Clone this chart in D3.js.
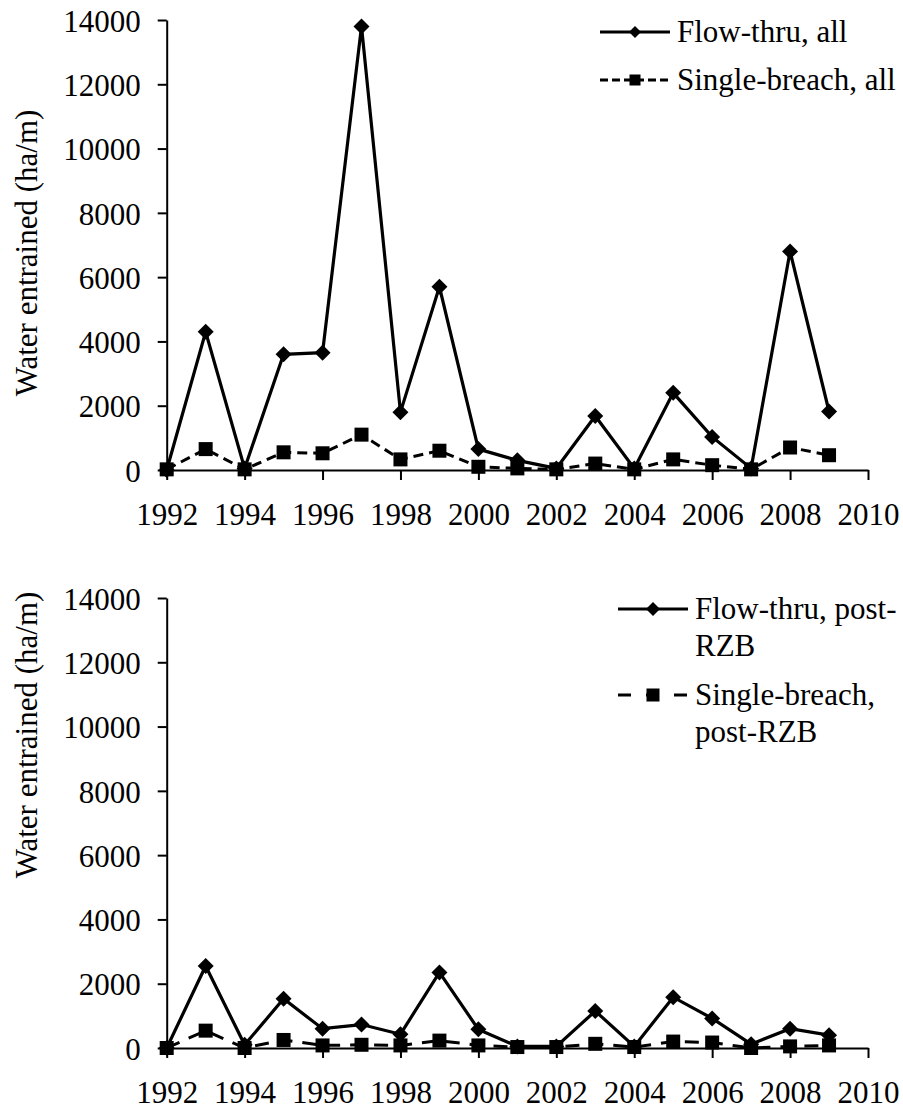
<!DOCTYPE html>
<html>
<head>
<meta charset="utf-8">
<script src="https://cdn.jsdelivr.net/npm/d3@7"></script>
</head>
<body style="margin:0">
<svg id="chart" width="903" height="1110"></svg>
<script>
// Water entrained per year, ha/m
const years = [1992, 1993, 1994, 1995, 1996, 1997, 1998, 1999, 2000,
               2001, 2002, 2003, 2004, 2005, 2006, 2007, 2008, 2009];
const flowAll = [0, 4300, 50, 3600, 3650, 13800, 1800, 5700, 650,
                 300, 50, 1680, 50, 2400, 1030, 50, 6800, 1820];
const singleAll = [20, 650, 20, 550, 520, 1100, 330, 600, 100,
                   50, 20, 200, 20, 330, 150, 20, 700, 460];
const flowPost = [0, 2550, 100, 1530, 600, 730, 430, 2350, 580,
                  50, 50, 1150, 50, 1580, 920, 120, 600, 400];
const singlePost = [0, 540, 0, 250, 80, 100, 80, 230, 80,
                    30, 30, 130, 30, 200, 170, 0, 50, 80];
const xTicks = [1992, 1994, 1996, 1998, 2000, 2002, 2004, 2006, 2008, 2010];
const yTicks = [0, 2000, 4000, 6000, 8000, 10000, 12000, 14000];
const yLabel = "Water entrained (ha/m)";

const FONT = 31;
const FAMILY = "Times New Roman";
const svg = d3.select("#chart");

const x = d3.scaleLinear().domain([1992, 2010]).range([166.7, 868]);

function panel(cfg) {
  const y = d3.scaleLinear().domain([0, 14000]).range([cfg.bottom, cfg.bottom - 450]);
  const g = svg.append("g");

  // y axis, ticks pointing out to the left
  const ya = g.append("g")
    .attr("transform", `translate(${x.range()[0]},0)`)
    .call(d3.axisLeft(y).tickValues(yTicks).tickFormat(d3.format("d"))
      .tickSize(9).tickSizeOuter(0).tickPadding(17));
  ya.attr("font-family", FAMILY).attr("font-size", FONT);
  ya.select(".domain").attr("stroke-width", 2);
  ya.selectAll(".tick line").attr("stroke-width", 2);
  ya.selectAll(".tick text").attr("dy", "0.36em");

  // x axis, ticks pointing down
  const xa = g.append("g")
    .attr("transform", `translate(0,${cfg.bottom})`)
    .call(d3.axisBottom(x).tickValues(xTicks).tickFormat(d3.format("d"))
      .tickSize(10).tickSizeOuter(0).tickPadding(24));
  xa.attr("font-family", FAMILY).attr("font-size", FONT);
  xa.select(".domain").attr("stroke-width", 2);
  xa.selectAll(".tick line").attr("stroke-width", 2);
  xa.selectAll(".tick text").attr("dy", "0.68em");
  xa.selectAll("path, line").attr("stroke", "#000");
  ya.selectAll("path, line").attr("stroke", "#000");

  // axis title
  g.append("text")
    .attr("font-family", FAMILY).attr("font-size", FONT)
    .attr("transform", `translate(37,${cfg.labelY}) rotate(-90)`)
    .attr("text-anchor", "middle")
    .text(yLabel);

  const line = d3.line().x((d, i) => x(years[i])).y(d => y(d));

  // single-breach (dashed, squares) drawn first
  g.append("path").datum(cfg.single)
    .attr("d", line).attr("fill", "none").attr("stroke", "#000")
    .attr("stroke-width", 3).attr("stroke-dasharray", cfg.dash);
  // flow-thru (solid, diamonds)
  g.append("path").datum(cfg.flow)
    .attr("d", line).attr("fill", "none").attr("stroke", "#000")
    .attr("stroke-width", 3.2).attr("stroke-linejoin", "miter");

  const sq = 14, dm = 8;
  g.selectAll(".sq").data(cfg.single).enter().append("rect")
    .attr("x", (d, i) => x(years[i]) - sq / 2)
    .attr("y", d => y(d) - sq / 2)
    .attr("width", sq).attr("height", sq).attr("fill", "#000");
  g.selectAll(".dm").data(cfg.flow).enter().append("path")
    .attr("transform", (d, i) => `translate(${x(years[i])},${y(d)})`)
    .attr("d", `M0,${-dm}L${dm},0L0,${dm}L${-dm},0Z`).attr("fill", "#000");

  // legend
  const L = cfg.legend;
  const lg = g.append("g").attr("font-family", FAMILY).attr("font-size", FONT);
  lg.append("line").attr("x1", L.x0).attr("x2", L.x1).attr("y1", L.y1).attr("y2", L.y1)
    .attr("stroke", "#000").attr("stroke-width", 3);
  const ld = L.dm;
  lg.append("path")
    .attr("transform", `translate(${(L.x0 + L.x1) / 2},${L.y1})`)
    .attr("d", `M0,${-ld}L${ld},0L0,${ld}L${-ld},0Z`).attr("fill", "#000");
  lg.append("line").attr("x1", L.x0).attr("x2", L.x1).attr("y1", L.y2).attr("y2", L.y2)
    .attr("stroke", "#000").attr("stroke-width", 3).attr("stroke-dasharray", cfg.legendDash);
  const ls = L.sq;
  lg.append("rect").attr("x", (L.x0 + L.x1) / 2 - ls / 2).attr("y", L.y2 - ls / 2)
    .attr("width", ls).attr("height", ls).attr("fill", "#000");

  const t1 = lg.append("text").attr("x", L.tx).attr("y", L.y1 + 10);
  L.text1.forEach((s, i) => t1.append("tspan").attr("x", L.tx).attr("dy", i ? L.lh : 0).text(s));
  const t2 = lg.append("text").attr("x", L.tx).attr("y", L.y2 + 10);
  L.text2.forEach((s, i) => t2.append("tspan").attr("x", L.tx).attr("dy", i ? L.lh : 0).text(s));
}

panel({
  bottom: 470, labelY: 253,
  flow: flowAll, single: singleAll,
  dash: "10,6", legendDash: "8,4",
  legend: { x0: 600, x1: 670, y1: 32, y2: 80, tx: 677, lh: 37, dm: 6, sq: 11,
            text1: ["Flow-thru, all"], text2: ["Single-breach, all"] }
});

panel({
  bottom: 1048, labelY: 735,
  flow: flowPost, single: singlePost,
  dash: "14,10", legendDash: "13,15",
  legend: { x0: 618, x1: 688, y1: 609, y2: 695, tx: 695, lh: 37, dm: 7, sq: 13,
            text1: ["Flow-thru, post-", "RZB"], text2: ["Single-breach,", "post-RZB"] }
});
</script>
</body>
</html>
